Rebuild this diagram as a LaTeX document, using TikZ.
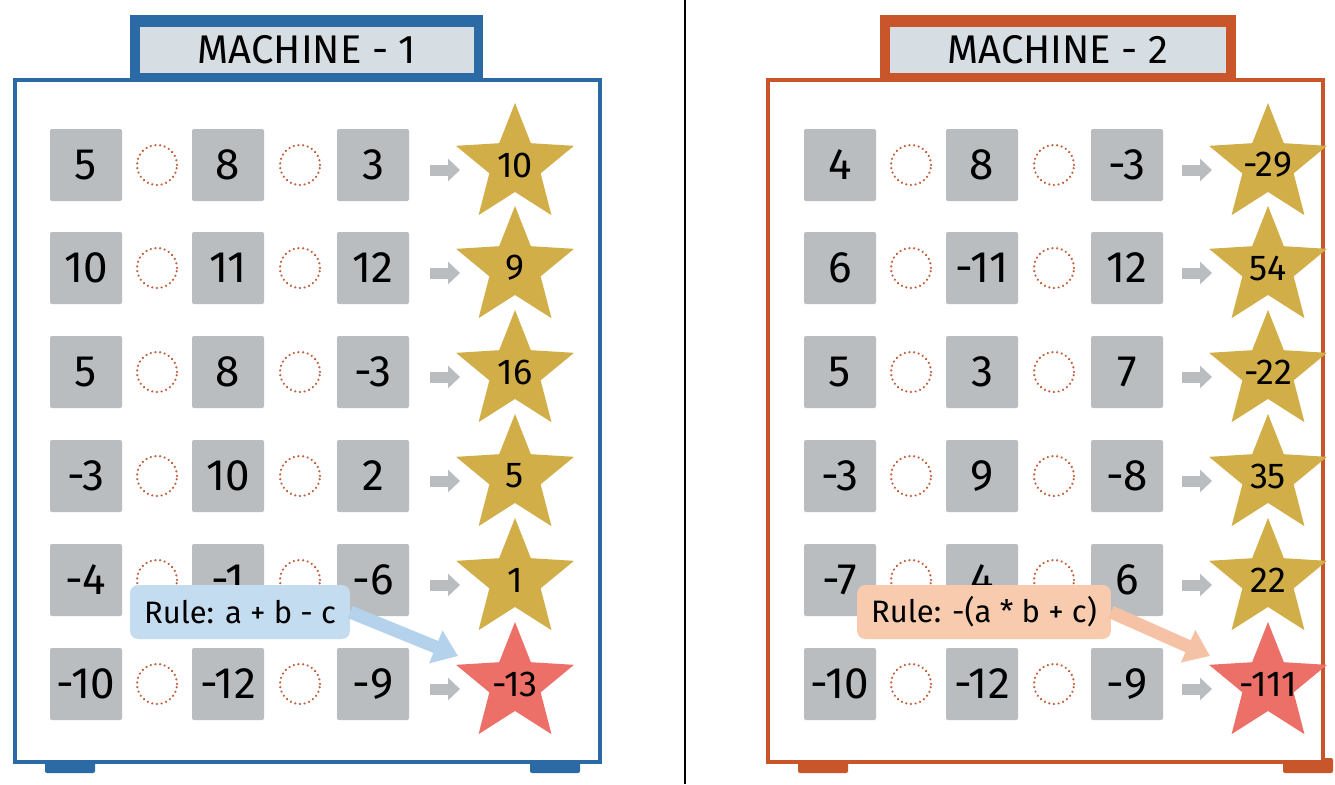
\documentclass[tikz,border=0pt]{standalone}
\usepackage{fontspec}
\setmainfont{Fira Sans}
\usetikzlibrary{shapes.geometric,arrows.meta}
\definecolor{gold}{HTML}{D2AE48}
\definecolor{redstar}{HTML}{EC6F68}
\definecolor{cardc}{HTML}{B9BDC0}
\definecolor{bluef}{HTML}{2C6AA5}
\definecolor{orangef}{HTML}{C9552A}
\definecolor{dotc}{HTML}{C0603F}
\definecolor{titlebg}{HTML}{D6DEE3}
\definecolor{ruleb}{HTML}{C4DCF0}
\definecolor{ruleo}{HTML}{F8CBAE}
\definecolor{ruleao}{HTML}{F5C2A6}
\definecolor{ruleab}{HTML}{B5D2EC}
\tikzset{
 cardn/.style={fill=cardc,rounded corners=2pt,minimum width=72pt,minimum height=72pt,font=\fontsize{44}{44}\selectfont},
 opn/.style={circle,draw=dotc,line width=2.4pt,dash pattern=on 0.1pt off 4.6pt,line cap=round,minimum size=40pt},
 starn/.style={star,star points=5,star point ratio=2.3,minimum size=124pt,inner sep=0pt,font=\fontsize{36}{36}\selectfont},
 arrn/.style={-{Triangle[length=12pt,width=22pt]},line width=11pt,draw=cardc},
 framen/.style={fill=white,line width=3.5pt},
 rulen/.style={rounded corners=8pt,inner xsep=14pt,minimum height=54pt,font=\fontsize{31}{31}\selectfont},
 titlen/.style={fill=titlebg,minimum height=45pt,font=\fontsize{40}{40}\selectfont},
}
\begin{document}
\begin{tikzpicture}[x=1pt,y=-1pt]
\useasboundingbox (0,0) rectangle (1335,784);
\fill[white] (0,0) rectangle (1335,784);
\draw[line width=2pt] (685,0) -- (685,784);
% ---------- Panel 1
\fill[bluef,rounded corners=2pt] (45,758) rectangle (95,773);
\fill[bluef,rounded corners=2pt] (530,758) rectangle (580,773);
\draw[framen,draw=bluef] (15,80) rectangle (600,762);
\fill[bluef] (130,15) rectangle (483,80);
\node[titlen,minimum width=334pt] (t1) at (307,50) {MACHINE - 1};
\foreach \r/\a/\b/\c/\s/\col [count=\i] in {165/5/8/3/10/gold,268/10/11/12/9/gold,372/5/8/-3/16/gold,476/-3/10/2/5/gold,580/-4/-1/-6/1/gold,684/-10/-12/-9/-13/redstar}{
 \node[cardn] (a1\i) at (86,\r) {\a};
 \node[opn] (o1\i) at (157,\r) {};
 \node[cardn] (b1\i) at (228,\r) {\b};
 \node[opn] (p1\i) at (300,\r) {};
 \node[cardn] (c1\i) at (373,\r) {\c};
 \node[starn,fill=\col] (s1\i) at (515,\r) {\makebox[0pt]{\s}};
 \coordinate (x1\i) at (430,\r+5);
 \coordinate (y1\i) at (460,\r+5);
 \draw[arrn] (x1\i) -- (y1\i);
}
\node[rulen,fill=ruleb] (r1) at (240,612) {Rule: a + b - c};
\coordinate (r1e) at (458,656);
\draw[-{Triangle[length=24pt,width=34pt]},line width=13pt,draw=ruleab] (r1.east) -- (r1e);
% ---------- Panel 2
\fill[orangef,rounded corners=2pt] (798,758) rectangle (848,773);
\fill[orangef,rounded corners=2pt] (1283,758) rectangle (1333,773);
\draw[framen,draw=orangef] (768,80) rectangle (1323,762);
\fill[orangef] (880,15) rectangle (1236,80);
\node[titlen,minimum width=336pt] (t2) at (1058,50) {MACHINE - 2};
\foreach \r/\a/\b/\c/\s/\col [count=\i] in {165/4/8/-3/-29/gold,268/6/-11/12/54/gold,372/5/3/7/-22/gold,476/-3/9/-8/35/gold,580/-7/4/6/22/gold,684/-10/-12/-9/-111/redstar}{
 \node[cardn] (a2\i) at (840,\r) {\a};
 \node[opn] (o2\i) at (911,\r) {};
 \node[cardn] (b2\i) at (982,\r) {\b};
 \node[opn] (p2\i) at (1054,\r) {};
 \node[cardn] (c2\i) at (1127,\r) {\c};
 \node[starn,fill=\col] (s2\i) at (1268,\r) {\makebox[0pt]{\s}};
 \coordinate (x2\i) at (1182,\r+5);
 \coordinate (y2\i) at (1212,\r+5);
 \draw[arrn] (x2\i) -- (y2\i);
}
\node[rulen,fill=ruleo] (r2) at (984,612) {Rule: -(a * b + c)};
\coordinate (r2e) at (1210,656);
\draw[-{Triangle[length=24pt,width=34pt]},line width=13pt,draw=ruleao] (r2.east) -- (r2e);
\end{tikzpicture}
\end{document}
